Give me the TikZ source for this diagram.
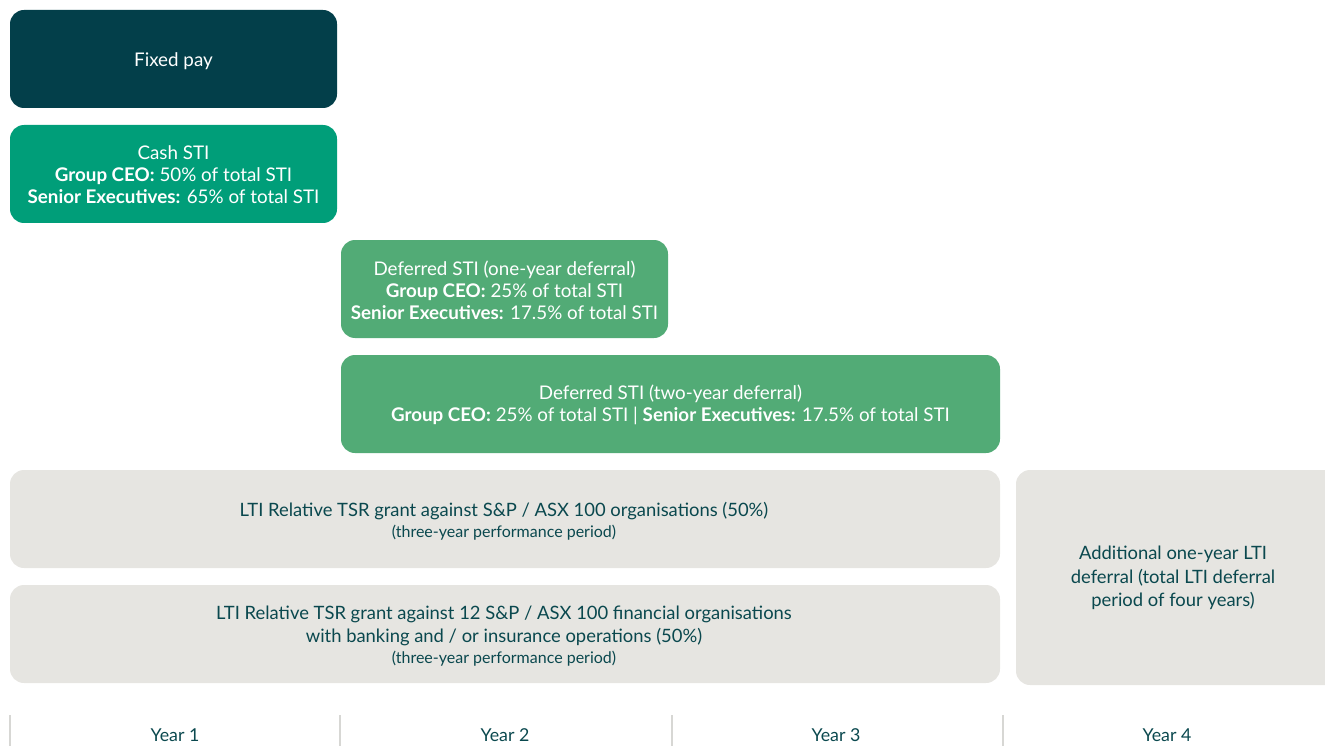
\documentclass[tikz,border=0pt]{standalone}
\usepackage{fontspec}
\setmainfont{Lato}
\definecolor{fixedc}{RGB}{3,63,74}
\definecolor{cashc}{RGB}{0,158,121}
\definecolor{defc}{RGB}{82,171,118}
\definecolor{ltic}{RGB}{230,229,225}
\definecolor{tealtext}{RGB}{10,72,78}
\definecolor{sepc}{RGB}{215,215,212}
\newcommand{\smalltxt}{\fontsize{16}{20}\selectfont}
\tikzset{
  bar/.style={rounded corners=14pt, draw=none},
  wtext/.style={text=white, align=center, font=\fontsize{18.8}{22}\selectfont},
  dtext/.style={text=tealtext, align=center, font=\fontsize{18.4}{23.5}\selectfont},
  yearlab/.style={text=tealtext, font=\fontsize{17.8}{20}\selectfont},
  sep/.style={draw=sepc, line width=1.3pt}
}
\begin{document}
\begin{tikzpicture}[x=1pt,y=-1pt]
\useasboundingbox (0,0) rectangle (1325,746);
\clip (0,0) rectangle (1325,746);
% boxes
\fill[bar, fixedc] (10,10) rectangle (337,108);
\node[wtext] (fixed) at (173.5,61) {Fixed pay};
\fill[bar, cashc] (10,125) rectangle (337,223);
\node[wtext] (cash) at (173.5,175) {Cash STI\\\textbf{Group CEO:} 50\% of total STI\\\textbf{Senior Executives:} 65\% of total STI};
\fill[bar, defc] (341,240) rectangle (668,338);
\node[wtext] (def1) at (504.5,290) {Deferred STI (one-year deferral)\\\textbf{Group CEO:} 25\% of total STI\\\textbf{Senior Executives:} 17.5\% of total STI};
\fill[bar, defc] (341,355) rectangle (1000,453);
\node[wtext] (def2) at (670.5,405) {Deferred STI (two-year deferral)\\\textbf{Group CEO:} 25\% of total STI | \textbf{Senior Executives:} 17.5\% of total STI};
\fill[bar, ltic] (10,470) rectangle (1000,568);
\node[dtext] (lti1) at (504,521) {LTI Relative TSR grant against S\&P / ASX 100 organisations (50\%)\\[-3pt]{\smalltxt (three-year performance period)}};
\fill[bar, ltic] (10,585) rectangle (1000,683);
\node[dtext] (lti2) at (504,636) {LTI Relative TSR grant against 12 S\&P / ASX 100 financial organisations\\with banking and / or insurance operations (50\%)\\[-3pt]{\smalltxt (three-year performance period)}};
\fill[bar, ltic] (1016,470) rectangle (1345,685);
\node[dtext] (add) at (1173,578) {Additional one-year LTI\\deferral (total LTI deferral\\period of four years)};
% timeline
\coordinate (s0t) at (10,715); \coordinate (s0b) at (10,746);
\coordinate (s1t) at (340,715); \coordinate (s1b) at (340,746);
\coordinate (s2t) at (672,715); \coordinate (s2b) at (672,746);
\coordinate (s3t) at (1003,715); \coordinate (s3b) at (1003,746);
\draw[sep] (s0t) -- (s0b);
\draw[sep] (s1t) -- (s1b);
\draw[sep] (s2t) -- (s2b);
\draw[sep] (s3t) -- (s3b);
\node[yearlab] (y1) at (175,735) {Year 1};
\node[yearlab] (y2) at (505,735) {Year 2};
\node[yearlab] (y3) at (836,735) {Year 3};
\node[yearlab] (y4) at (1167,735) {Year 4};
\end{tikzpicture}
\end{document}
